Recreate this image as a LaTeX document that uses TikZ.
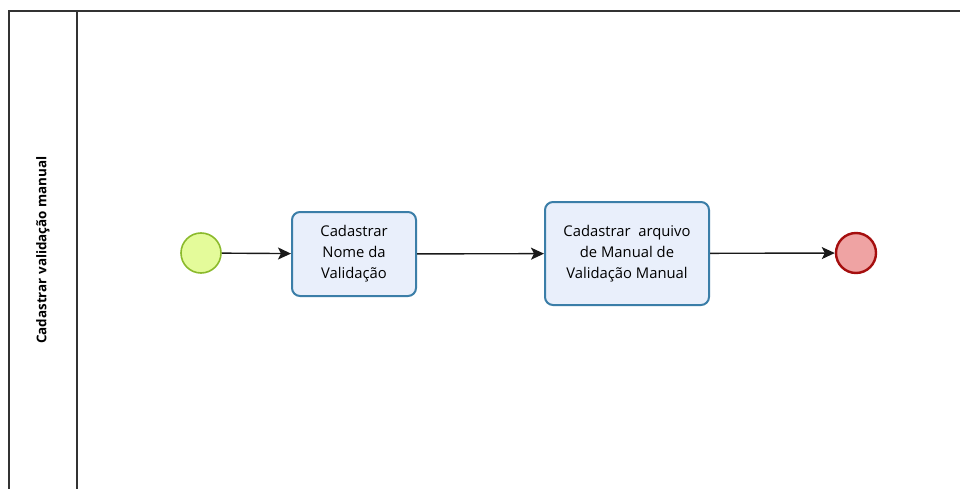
\documentclass[tikz,border=0pt]{standalone}
\usepackage{fontspec}
\setmainfont{Open Sans}
\usetikzlibrary{arrows.meta}
\definecolor{startfill}{HTML}{E4FB9A}
\definecolor{startline}{HTML}{8BBA2C}
\definecolor{endfill}{HTML}{EFA3A3}
\definecolor{endline}{HTML}{A50E0E}
\definecolor{taskfill}{HTML}{E9EFFB}
\definecolor{taskline}{HTML}{3B7EA8}
\definecolor{poolline}{HTML}{333333}
\tikzset{
  startevt/.style={circle, draw=startline, fill=startfill, line width=1.6pt, minimum size=40pt, inner sep=0pt},
  endevt/.style={circle, draw=endline, fill=endfill, line width=2.4pt, minimum size=40pt, inner sep=0pt},
  taskbox/.style={rectangle, rounded corners=8pt, draw=taskline, fill=taskfill, line width=2pt,
    align=center, font=\fontsize{14.8}{21}\selectfont, inner sep=0pt},
  flow/.style={draw=black!90, line width=1.4pt, -{Stealth[length=13pt,width=12pt,inset=3pt]}},
  poolborder/.style={draw=poolline, line width=1.3pt},
}
\begin{document}
\begin{tikzpicture}[x=1pt,y=1pt]
\useasboundingbox (0,0) rectangle (960,-489);
\fill[white] (0,0) rectangle (960,-489);
% pool and lane frame
\draw[poolborder] (960,-11) -- (9,-11) -- (9,-489);
\draw[poolborder] (77,-11) -- (77,-489);
\node[rotate=90, font=\fontsize{13.4}{15}\selectfont\bfseries] (lane) at (43,-250) {Cadastrar validação manual};
% events and tasks
\node[startevt] (start) at (201,-253) {};
\node[taskbox, minimum width=124pt, minimum height=84pt] (t1) at (354,-254) {Cadastrar\\Nome da\\Validação};
\node[taskbox, minimum width=164pt, minimum height=103pt] (t2) at (627,-253.5) {Cadastrar\ \ arquivo\\de Manual de\\Validação Manual};
\node[endevt] (end) at (856,-253) {};
% sequence flows
\draw[flow] (start) -- (t1);
\draw[flow] (t1) -- (t2);
\draw[flow] (t2) -- (end);
\end{tikzpicture}
\end{document}
